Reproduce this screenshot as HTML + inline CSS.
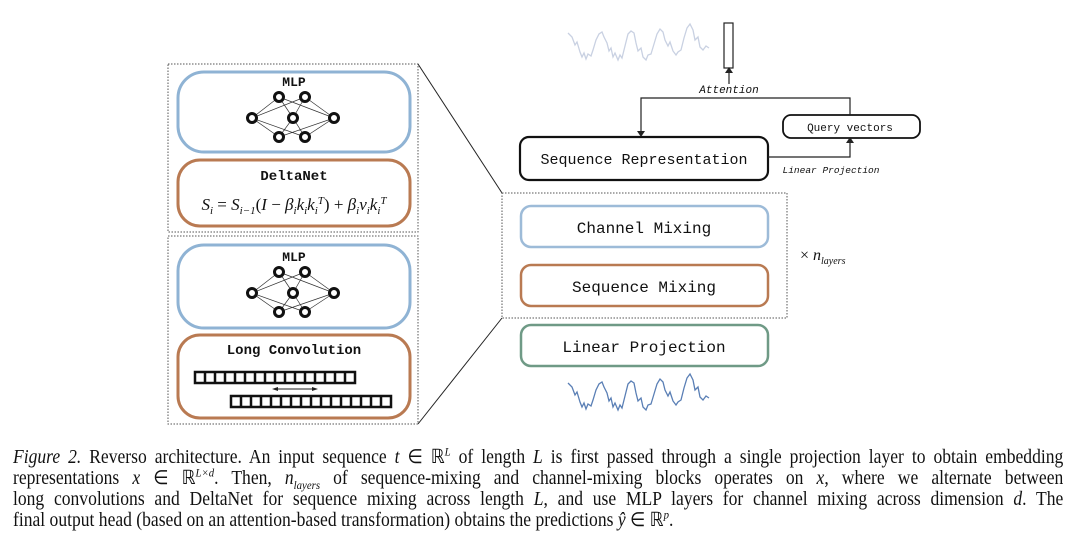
<!DOCTYPE html>
<html><head><meta charset="utf-8"><style>
body{margin:0;background:#fff;width:1080px;height:544px;overflow:hidden}
.cap{position:absolute;left:13px;top:447px;width:1167px;font-family:"Liberation Serif",serif;font-size:19.5px;line-height:21px;color:#111;transform:scaleX(0.9);transform-origin:0 0}
.cap div{white-space:nowrap;text-align:justify;text-align-last:justify;height:21px}
.cap div.last{text-align-last:left}
.cap i{font-style:italic}
sup,sub{line-height:0}
</style></head><body>
<svg width="1080" height="544" style="position:absolute;left:0;top:0" xmlns="http://www.w3.org/2000/svg">
<g fill="none">
<rect x="168" y="64" width="250" height="168" stroke="#555" stroke-dasharray="1.5 1.5"/>
<rect x="168" y="236" width="250" height="188" stroke="#555" stroke-dasharray="1.5 1.5"/>
<rect x="178" y="72" width="232" height="80" rx="26" stroke="#8fb3d4" stroke-width="3"/>
<rect x="178" y="160" width="232" height="66" rx="22" stroke="#b97a52" stroke-width="3"/>
<rect x="178" y="245" width="232" height="83" rx="26" stroke="#8fb3d4" stroke-width="3"/>
<rect x="178" y="335" width="232" height="83" rx="22" stroke="#b97a52" stroke-width="3"/>
<line x1="418" y1="64" x2="502" y2="193" stroke="#222"/>
<line x1="418" y1="424" x2="502" y2="318" stroke="#222"/>
<rect x="502" y="193" width="285" height="125" stroke="#555" stroke-dasharray="1.5 1.5"/>
<rect x="521" y="206" width="247" height="41" rx="10" stroke="#9dbbd8" stroke-width="2.5"/>
<rect x="521" y="265" width="247" height="41" rx="10" stroke="#b97a52" stroke-width="2.5"/>
<rect x="521" y="325" width="247" height="41" rx="10" stroke="#6f9a86" stroke-width="2.5"/>
<rect x="520" y="137" width="248" height="43" rx="9" stroke="#111" stroke-width="2.2"/>
<rect x="783" y="115" width="137" height="23" rx="8" stroke="#111" stroke-width="1.8"/>
<polyline points="641,133 641,98 850,98 850,115" stroke="#222" stroke-width="1.2"/>
<polyline points="768,157 850,157 850,142" stroke="#222" stroke-width="1.2"/>
<line x1="729" y1="84" x2="729" y2="72" stroke="#222" stroke-width="1.2"/>
<rect x="724" y="23" width="9" height="45" stroke="#222" stroke-width="1.2"/>
</g>
<g fill="#222">
<polygon points="637,131 645,131 641,137"/>
<polygon points="846,143 854,143 850,137"/>
<polygon points="725,73 733,73 729,67"/>
</g>
<g id="net" stroke="#333" stroke-width="0.7" fill="none">
<path d="M252,118 L279,97 M252,118 L305,97 M252,118 L279,137 M252,118 L305,137 M293,118 L279,97 M293,118 L305,97 M293,118 L279,137 M293,118 L305,137 M334,118 L279,97 M334,118 L305,97 M334,118 L279,137 M334,118 L305,137"/>
<g stroke="#111" stroke-width="3" fill="#fff">
<circle cx="279" cy="97" r="4.5"/><circle cx="305" cy="97" r="4.5"/>
<circle cx="252" cy="118" r="4.5"/><circle cx="293" cy="118" r="4.5"/><circle cx="334" cy="118" r="4.5"/>
<circle cx="279" cy="137" r="4.5"/><circle cx="305" cy="137" r="4.5"/>
</g></g>
<use href="#net" transform="translate(0,175)"/>
<g stroke="#111" stroke-width="2.5" fill="#fff">
<rect x="195" y="372" width="160" height="11"/>
<rect x="231" y="396" width="160" height="11"/>
</g>
<g stroke="#111" stroke-width="2.5">
<path d="M205,372v11M215,372v11M225,372v11M235,372v11M245,372v11M255,372v11M265,372v11M275,372v11M285,372v11M295,372v11M305,372v11M315,372v11M325,372v11M335,372v11M345,372v11"/>
<path d="M241,396v11M251,396v11M261,396v11M271,396v11M281,396v11M291,396v11M301,396v11M311,396v11M321,396v11M331,396v11M341,396v11M351,396v11M361,396v11M371,396v11M381,396v11"/>
</g>
<line x1="276" y1="389" x2="314" y2="389" stroke="#222"/>
<polygon points="272,389 278,387 278,391" fill="#222"/><polygon points="318,389 312,387 312,391" fill="#222"/>
<path d="M568,383 l4,4 l3,8 l2,-3 l3,10 l2,5 l2,-4 l2,6 l2,-5 l3,2 l2,-6 l3,-10 l3,-6 l3,-2 l2,5 l3,6 l2,8 l2,-3 l2,9 l2,-4 l3,7 l2,-5 l2,3 l3,-12 l3,-12 l3,-3 l3,2 l2,10 l2,8 l3,-3 l2,9 l3,3 l2,-5 l3,-1 l3,-10 l3,-10 l3,-5 l3,3 l2,8 l3,6 l2,-4 l3,9 l3,4 l2,-3 l3,-2 l3,-12 l3,-10 l3,-4 l3,6 l2,10 l3,-3 l2,10 l3,3 l3,-4 l3,2" fill="none" stroke="#5a7fb5" stroke-width="1.3"/>
<path d="M568,33 l4,4 l3,8 l2,-3 l3,10 l2,5 l2,-4 l2,6 l2,-5 l3,2 l2,-6 l3,-10 l3,-6 l3,-2 l2,5 l3,6 l2,8 l2,-3 l2,9 l2,-4 l3,7 l2,-5 l2,3 l3,-12 l3,-12 l3,-3 l3,2 l2,10 l2,8 l3,-3 l2,9 l3,3 l2,-5 l3,-1 l3,-10 l3,-10 l3,-5 l3,3 l2,8 l3,6 l2,-4 l3,9 l3,4 l2,-3 l3,-2 l3,-12 l3,-10 l3,-4 l3,6 l2,10 l3,-3 l2,10 l3,3 l3,-4 l3,2" fill="none" stroke="#c9d1e2" stroke-width="1.3"/>
<g font-family="Liberation Mono, monospace" fill="#111" text-anchor="middle">
<text x="294" y="86" font-size="13" font-weight="bold">MLP</text>
<text x="294" y="261" font-size="13" font-weight="bold">MLP</text>
<text x="294" y="180" font-size="14" font-weight="bold">DeltaNet</text>
<text x="294" y="354" font-size="14" font-weight="bold">Long Convolution</text>
<text x="644" y="233" font-size="16">Channel Mixing</text>
<text x="644" y="292" font-size="16">Sequence Mixing</text>
<text x="644" y="352" font-size="16">Linear Projection</text>
<text x="644" y="164" font-size="15">Sequence Representation</text>
<text x="850" y="131" font-size="11">Query vectors</text>
<text x="729" y="93" font-size="11" font-style="italic">Attention</text>
<text x="831" y="173" font-size="9.5" font-style="italic">Linear Projection</text>
</g>
<text x="294" y="210" text-anchor="middle" font-family="Liberation Serif, serif" font-size="17" font-style="italic" fill="#111">S<tspan font-size="11" dy="4">i</tspan><tspan dy="-4" font-style="normal"> = </tspan>S<tspan font-size="11" dy="4">i−1</tspan><tspan dy="-4" font-style="normal">(</tspan>I<tspan font-style="normal"> − </tspan>β<tspan font-size="11" dy="4">i</tspan><tspan dy="-4">k</tspan><tspan font-size="11" dy="4">i</tspan><tspan dy="-4">k</tspan><tspan font-size="11" dy="4">i</tspan><tspan font-size="11" dy="-10">T</tspan><tspan dy="6" font-style="normal">) + </tspan>β<tspan font-size="11" dy="4">i</tspan><tspan dy="-4">v</tspan><tspan font-size="11" dy="4">i</tspan><tspan dy="-4">k</tspan><tspan font-size="11" dy="4">i</tspan><tspan font-size="11" dy="-10">T</tspan></text>
<text x="800" y="260" font-family="Liberation Serif, serif" font-size="16" fill="#111">× <tspan font-style="italic">n</tspan><tspan font-style="italic" font-size="10" dy="4">layers</tspan></text>
</svg>
<div class="cap">
<div><i>Figure 2.</i> Reverso architecture. An input sequence <i>t</i> ∈ ℝ<sup style="font-size:12px"><i>L</i></sup> of length <i>L</i> is first passed through a single projection layer to obtain embedding</div>
<div>representations <i>x</i> ∈ ℝ<sup style="font-size:12px"><i>L×d</i></sup>. Then, <i>n<sub style="font-size:12px">layers</sub></i> of sequence-mixing and channel-mixing blocks operates on <i>x</i>, where we alternate between</div>
<div>long convolutions and DeltaNet for sequence mixing across length <i>L</i>, and use MLP layers for channel mixing across dimension <i>d</i>. The</div>
<div class="last">final output head (based on an attention-based transformation) obtains the predictions <i>ŷ</i> ∈ ℝ<sup style="font-size:12px"><i>p</i></sup>.</div>
</div>
</body></html>
